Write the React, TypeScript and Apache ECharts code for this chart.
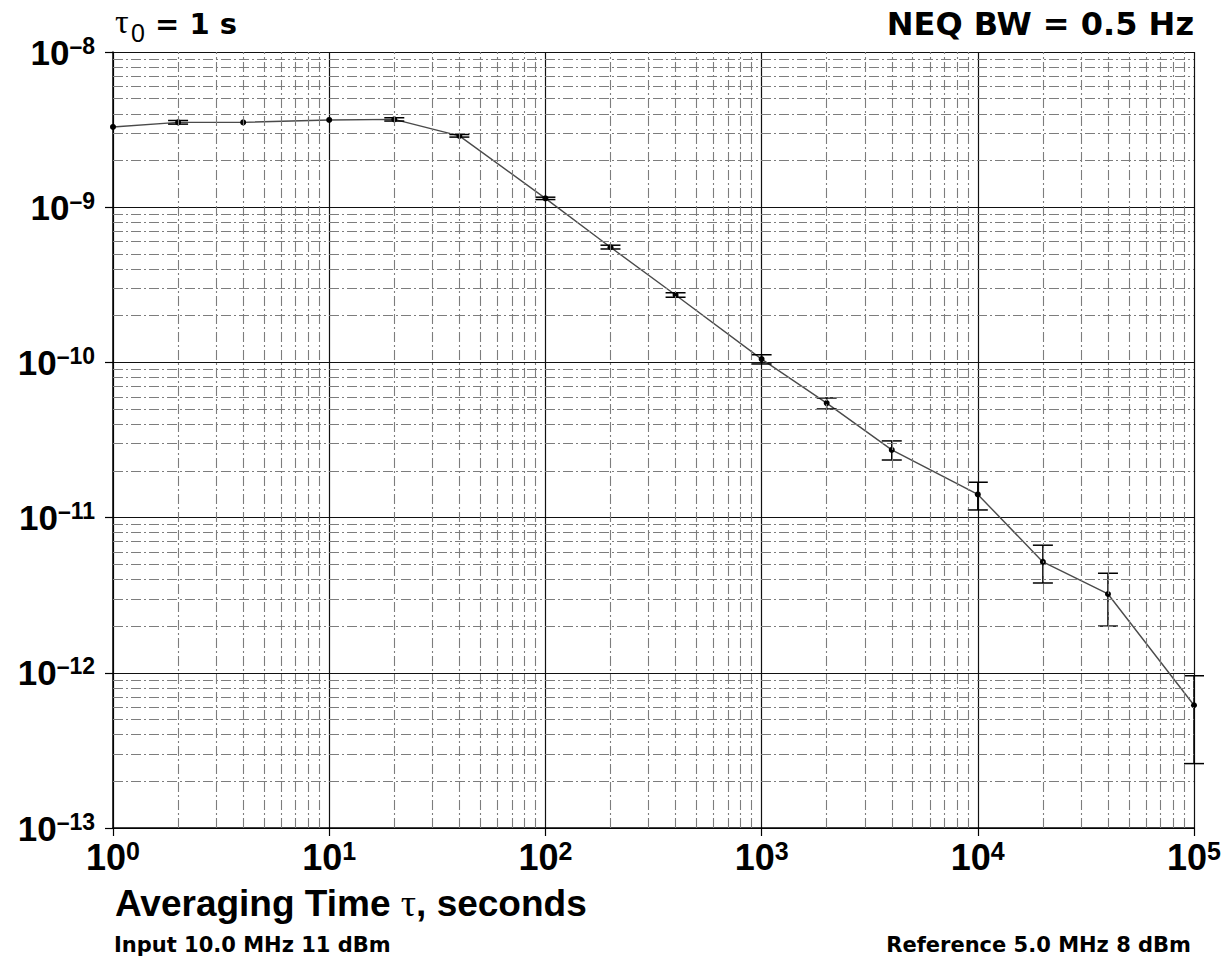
import React, { useEffect, useRef } from 'react';
import * as echarts from 'echarts';

// Averaging time (s) and Allan deviation
const tau = [1, 2, 4, 10, 20, 40, 100, 200, 400, 1000, 2000, 4000, 10000, 20000, 40000, 100000];
const adev = [3.29e-9, 3.52e-9, 3.52e-9, 3.65e-9, 3.68e-9, 2.88e-9, 1.14e-9, 5.52e-10, 2.72e-10, 1.05e-10, 5.47e-11, 2.73e-11, 1.41e-11, 5.18e-12, 3.22e-12, 6.18e-13];
const errHigh = [null, 3.62e-9, null, null, 3.77e-9, 2.94e-9, 1.16e-9, 5.69e-10, 2.81e-10, 1.12e-10, 5.9e-11, 3.12e-11, 1.69e-11, 6.64e-12, 4.38e-12, 9.57e-13];
const errLow = [null, 3.43e-9, null, null, 3.59e-9, 2.83e-9, 1.12e-9, 5.38e-10, 2.63e-10, 9.77e-11, 5.01e-11, 2.35e-11, 1.12e-11, 3.79e-12, 2.0e-12, 2.6e-13];

// grid decades and minor multipliers
const xDecadeExps = [0, 1, 2, 3, 4];
const yDecadeExps = [-13, -12, -11, -10, -9];
const minorSteps = [2, 3, 4, 5, 6, 7, 8, 9];

const titleLeft = 'τ';
const titleSub = '0';
const titleRest = '= 1 s';
const titleRight = 'NEQ BW = 0.5 Hz';
const footLeft = 'Input 10.0 MHz 11 dBm';
const footRight = 'Reference 5.0 MHz 8 dBm';

export default function App() {
  const ref = useRef<HTMLDivElement>(null);
  useEffect(() => {
    const chart = echarts.init(ref.current!, null, { renderer: 'svg' });
    const xMinor = xDecadeExps.flatMap((e) => minorSteps.map((m) => m * Math.pow(10, e)));
    const yMinor = yDecadeExps.flatMap((e) => minorSteps.map((m) => m * Math.pow(10, e)));
    const lineData = tau.map((t, i) => [t, adev[i]]);
    const errData = tau
      .map((t, i) => [t, errHigh[i], errLow[i]])
      .filter((d) => d[1] != null && d[2] != null);

    const sansB = '"Liberation Sans", Arial, sans-serif';
    const deja = '"DejaVu Sans", sans-serif';

    const option: any = {
      animation: false,
      backgroundColor: '#ffffff',
      grid: { left: 113, top: 52, width: 1081, height: 776, containLabel: false },
      xAxis: {
        type: 'log',
        logBase: 10,
        min: 1,
        max: 100000,
        axisLine: { show: true, onZero: false, lineStyle: { color: '#000', width: 1.5 } },
        axisTick: { show: true, inside: false, length: 8, lineStyle: { color: '#000', width: 1.2 } },
        splitLine: { show: true, lineStyle: { color: '#111', width: 1.2 } },
        axisLabel: {
          margin: 10,
          showMinLabel: true,
          showMaxLabel: true,
          formatter: (v: number) => `{b|10}{s|${Math.round(Math.log10(v))}}`,
          rich: {
            b: { fontFamily: sansB, fontWeight: 'bold', fontSize: 36, lineHeight: 38, color: '#000' },
            s: { fontFamily: sansB, fontWeight: 'bold', fontSize: 25, lineHeight: 30, verticalAlign: 'top', color: '#000' },
          },
        },
      },
      yAxis: {
        type: 'log',
        logBase: 10,
        min: 1e-13,
        max: 1e-8,
        axisLine: { show: true, onZero: false, lineStyle: { color: '#000', width: 1.5 } },
        axisTick: { show: true, inside: false, length: 8, lineStyle: { color: '#000', width: 1.2 } },
        splitLine: { show: true, lineStyle: { color: '#111', width: 1.2 } },
        axisLabel: {
          margin: 18,
          showMinLabel: true,
          showMaxLabel: true,
          formatter: (v: number) => `{b|10}{s|–${Math.abs(Math.round(Math.log10(v)))}}`,
          rich: {
            b: { fontFamily: sansB, fontWeight: 'bold', fontSize: 35, lineHeight: 36, color: '#000' },
            s: { fontFamily: sansB, fontWeight: 'bold', fontSize: 23, lineHeight: 26, verticalAlign: 'top', color: '#000' },
          },
        },
      },
      graphic: [
        {
          type: 'text', x: 115, y: 21,
          style: { text: titleLeft, fontFamily: '"Liberation Serif", serif', fontSize: 34, fill: '#000', textAlign: 'left', align: 'left', textVerticalAlign: 'middle', verticalAlign: 'middle' },
        },
        {
          type: 'text', x: 131, y: 33,
          style: { text: titleSub, fontFamily: sansB, fontSize: 25, fill: '#000', textAlign: 'left', align: 'left', textVerticalAlign: 'middle', verticalAlign: 'middle' },
        },
        {
          type: 'text', x: 155, y: 24,
          style: { text: titleRest, fontFamily: deja, fontWeight: 'bold', fontSize: 29, fill: '#000', textAlign: 'left', align: 'left', textVerticalAlign: 'middle', verticalAlign: 'middle' },
        },
        {
          type: 'text', x: 1194, y: 24,
          style: { text: titleRight, fontFamily: deja, fontWeight: 'bold', fontSize: 32, fill: '#000', textAlign: 'right', align: 'right', textVerticalAlign: 'middle', verticalAlign: 'middle' },
        },
        {
          type: 'text', x: 115, y: 903,
          style: {
            text: '{a|Averaging Time }{t|τ}{a|, seconds}',
            rich: {
              a: { fontFamily: sansB, fontWeight: 'bold', fontSize: 37, fill: '#000', color: '#000' },
              t: { fontFamily: '"Liberation Serif", serif', fontSize: 38, fill: '#000', color: '#000' },
            },
            fill: '#000', textAlign: 'left', align: 'left', textVerticalAlign: 'middle', verticalAlign: 'middle',
          },
        },
        {
          type: 'text', x: 114, y: 945,
          style: { text: footLeft, fontFamily: deja, fontWeight: 'bold', fontSize: 21, fill: '#000', textAlign: 'left', align: 'left', textVerticalAlign: 'middle', verticalAlign: 'middle' },
        },
        {
          type: 'text', x: 1191, y: 945,
          style: { text: footRight, fontFamily: deja, fontWeight: 'bold', fontSize: 21, fill: '#000', textAlign: 'right', align: 'right', textVerticalAlign: 'middle', verticalAlign: 'middle' },
        },
      ],
      series: [
        {
          type: 'line',
          name: 'minor-grid',
          data: [],
          z: 1,
          silent: true,
          markLine: {
            silent: true,
            precision: 20,
            symbol: ['none', 'none'],
            label: { show: false },
            animation: false,
            lineStyle: { color: '#7d7d7d', width: 1.1, type: [10, 3, 2, 3] },
            emphasis: { disabled: true },
            data: [...xMinor.map((v) => ({ xAxis: v })), ...yMinor.map((v) => ({ yAxis: v }))],
          },
        },
        {
          type: 'line',
          name: 'ADEV',
          data: lineData,
          z: 3,
          symbol: 'circle',
          symbolSize: 6,
          itemStyle: { color: '#000' },
          lineStyle: { color: '#4a4a4a', width: 1.4 },
        },
        {
          type: 'custom',
          name: 'error',
          z: 4,
          clip: false,
          data: errData,
          encode: { x: 0, y: [1, 2] },
          renderItem: (params: any, api: any) => {
            const x = api.value(0);
            const pHi = api.coord([x, api.value(1)]);
            const pLo = api.coord([x, api.value(2)]);
            const hw = 10;
            const st = { stroke: '#000', lineWidth: 1.5 };
            return {
              type: 'group',
              children: [
                { type: 'line', shape: { x1: pHi[0], y1: pHi[1], x2: pLo[0], y2: pLo[1] }, style: st },
                { type: 'line', shape: { x1: pHi[0] - hw, y1: pHi[1], x2: pHi[0] + hw, y2: pHi[1] }, style: st },
                { type: 'line', shape: { x1: pLo[0] - hw, y1: pLo[1], x2: pLo[0] + hw, y2: pLo[1] }, style: st },
              ],
            };
          },
        },
      ],
    };
    chart.setOption(option);
    return () => chart.dispose();
  }, []);
  return (
    <div
      ref={ref}
      style={{ position: 'absolute', left: 0, top: 0, width: 1225, height: 966, background: '#fff' }}
    />
  );
}
